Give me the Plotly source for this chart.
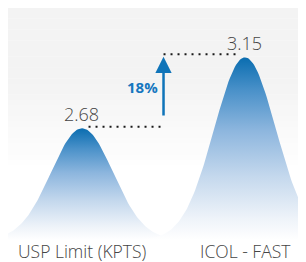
import numpy as np
import plotly.graph_objects as go

# ---- data ----
categories = ["USP Limit (KPTS)", "ICOL - FAST"]
values = [2.68, 3.15]
value_labels = ["2.68", "3.15"]
change_label = "18%"

# ---- styling constants ----
BLUE = "#0f74b9"
TEXT = "#454545"
BASE = 1.94        # baseline of the bell shapes (axis units)
SIGMA = 0.19       # bell width (category units)
FONT = "Open Sans"
W, H = 298, 254    # page body adds an 8px offset
XR = [-0.454, 1.374]
YR = [1.795, 3.477]

fig = go.Figure()

# soft grey background fading to white downward (stepped bands)
bg_bottom = 2.40
nb = 30
edges = np.linspace(bg_bottom, YR[1], nb + 1)
for k in range(nb):
    f = (k + 0.5) / nb            # 0 bottom -> 1 top
    g = 255 - (12 * min(1.0, f / 0.55))
    g = int(round(g))
    fig.add_shape(type="rect", xref="paper", yref="y", x0=0, x1=1,
                  y0=edges[k], y1=edges[k + 1] + 0.002,
                  fillcolor=f"rgb({g},{g},{g})", line_width=0, layer="below")

cscale = [[0.0, "#ffffff"], [0.12, "#eef3f9"], [0.35, "#c4d8ed"],
          [0.6, "#8db6de"], [0.82, "#4a91c9"], [1.0, "#0a6db0"]]

for i, v in enumerate(values):
    t = np.linspace(-3.3 * SIGMA, 3.3 * SIGMA, 161)
    y = BASE + (v - BASE) * np.exp(-t ** 2 / (2 * SIGMA ** 2))
    xs = np.concatenate([i + t, [i + t[-1], i + t[0]]])
    ys = np.concatenate([y, [BASE, BASE]])
    fig.add_trace(go.Scatter(
        x=xs, y=ys, mode="lines", fill="toself", line=dict(width=0),
        fillgradient=dict(type="vertical", colorscale=cscale, start=BASE, stop=v),
        hoverinfo="skip", showlegend=False))

# dotted guide lines
fig.add_trace(go.Scatter(x=[0.04, 0.51], y=[values[0] + 0.01, values[0] + 0.01], mode="lines",
                         line=dict(color="#1a1a1a", width=2, dash="2px,5px"),
                         hoverinfo="skip", showlegend=False))
fig.add_trace(go.Scatter(x=[0.50, 0.97], y=[values[1] + 0.02, values[1] + 0.02], mode="lines",
                         line=dict(color="#1a1a1a", width=2, dash="2px,5px"),
                         hoverinfo="skip", showlegend=False))

# arrow
fig.add_annotation(x=0.5, y=values[1] + 0.005, ax=0.5, ay=values[0] + 0.075,
                   xref="x", yref="y", axref="x", ayref="y", text="",
                   showarrow=True, arrowhead=2, arrowsize=1.3, arrowwidth=2.5,
                   arrowcolor=BLUE)
fig.add_annotation(x=0.368, y=2.954, xref="x", yref="y", text="<b>" + change_label + "</b>",
                   showarrow=False, font=dict(family=FONT, size=15, color="#1677bf"))

# value labels
for i, (v, lab) in enumerate(zip(values, value_labels)):
    fig.add_annotation(x=i - 0.005, y=v + 0.095, xref="x", yref="y", text=lab,
                       showarrow=False, font=dict(family=FONT, size=18, color=TEXT, weight=300))

# category labels
for i, c in enumerate(categories):
    fig.add_annotation(x=i, y=1.868, xref="x", yref="y", text=c, showarrow=False,
                       font=dict(family=FONT, size=17.5, color=TEXT, weight=300))

fig.update_layout(
    width=W, height=H, margin=dict(l=0, r=0, t=0, b=0),
    paper_bgcolor="white", plot_bgcolor="rgba(0,0,0,0)",
    xaxis=dict(range=XR, visible=False, fixedrange=True),
    yaxis=dict(range=YR, visible=False, fixedrange=True),
    showlegend=False,
)
fig.write_html("out.html")
